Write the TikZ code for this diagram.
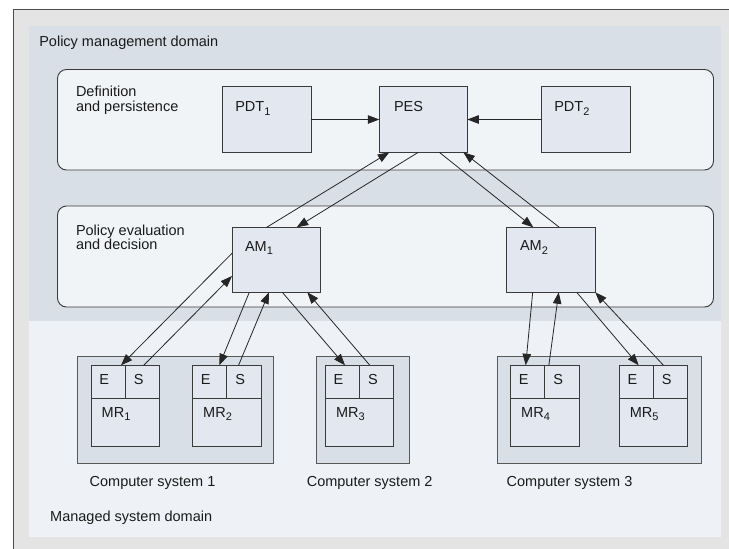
\documentclass[tikz,border=0pt]{standalone}
\usepackage{fontspec}
\setmainfont{Liberation Sans}
\usetikzlibrary{arrows.meta,calc}
\definecolor{outergray}{HTML}{E4E4E4}
\definecolor{band}{HTML}{D8DFE7}
\definecolor{paleregion}{HTML}{EEF2F6}
\definecolor{roundfill}{HTML}{F1F4F7}
\definecolor{boxfill}{HTML}{E3E7EF}
\definecolor{linecol}{HTML}{3A3A3A}
\definecolor{txtcol}{HTML}{1A1A1A}
\newcommand{\lowsub}[1]{\raisebox{-3.6pt}{\fontsize{11}{11}\selectfont #1}}
\begin{document}
\begin{tikzpicture}[x=1pt,y=-1pt,
  every node/.style={font=\fontsize{14.5}{14.3}\selectfont, text=txtcol},
  txt/.style={anchor=base west, inner sep=0pt, outer sep=0pt},
  region/.style={anchor=north west, inner sep=0pt, outer sep=0pt, fill=#1},
  container/.style={anchor=north west, inner sep=0pt, outer sep=0pt, draw=linecol, line width=0.9pt, fill=roundfill, rounded corners=9pt},
  system/.style={anchor=north west, inner sep=0pt, outer sep=0pt, draw=linecol!85, line width=0.9pt, fill=band},
  box/.style={anchor=north west, inner sep=0pt, outer sep=0pt, draw=linecol, line width=0.9pt, fill=boxfill},
  arr/.style={draw=black!85, line width=0.8pt, -{Triangle[length=11.5pt,width=8.5pt]}}
]
\clip (0,0) rectangle (729,549);
\useasboundingbox (0,0) rectangle (729,549);
\fill[white] (0,0) rectangle (729,549);
% outer frame
\node[region=outergray, draw=black!70, line width=0.9pt, minimum width=740pt, minimum height=560pt] (frame) at (13,9) {};
% domains
\node[region=band, minimum width=692pt, minimum height=295pt] (pmd) at (29,26) {};
\node[region=paleregion, minimum width=692pt, minimum height=216pt] (msd) at (29,321) {};
\node[txt] (pmdlabel) at (39.3,46.7) {Policy management domain};
\node[txt] (msdlabel) at (50.2,521.7) {Managed system domain};
% layer containers
\node[container, minimum width=656pt, minimum height=100.5pt] (defbox) at (57.5,69.5) {};
\node[container, minimum width=656pt, minimum height=101pt] (evalbox) at (57.5,206) {};
\node[txt] (deflabel) at (76,96.7) {\begin{tabular}[t]{@{}l@{}}Definition\\and persistence\end{tabular}};
\node[txt] (evallabel) at (76,235) {\begin{tabular}[t]{@{}l@{}}Policy evaluation\\and decision\end{tabular}};
% top boxes
\node[box, minimum width=88.6pt, minimum height=65.6pt] (PDT1) at (222.7,86.7) {};
\node[box, minimum width=88pt, minimum height=65.6pt] (PES) at (379.3,86.7) {};
\node[box, minimum width=89pt, minimum height=65.6pt] (PDT2) at (541.7,86.7) {};
\node[txt] (PDT1l) at ($(PDT1.north west)+(12.6,25)$) {PDT\lowsub{1}};
\node[txt] (PESl) at ($(PES.north west)+(14.7,25)$) {PES};
\node[txt] (PDT2l) at ($(PDT2.north west)+(12.6,25)$) {PDT\lowsub{2}};
% AM boxes
\node[box, minimum width=88.7pt, minimum height=65pt] (AM1) at (232,227.3) {};
\node[box, minimum width=88.6pt, minimum height=65pt] (AM2) at (506.7,227.3) {};
\node[txt] (AM1l) at ($(AM1.north west)+(13,23.7)$) {AM\lowsub{1}};
\node[txt] (AM2l) at ($(AM2.north west)+(13.3,23.4)$) {AM\lowsub{2}};
% computer systems
\node[system, minimum width=195.6pt, minimum height=106.8pt] (CS1) at (77.7,356.5) {};
\node[system, minimum width=93pt, minimum height=106.8pt] (CS2) at (316,356.5) {};
\node[system, minimum width=204pt, minimum height=106.8pt] (CS3) at (497.4,356.5) {};
\node[txt] (CS1l) at (89.7,486.7) {Computer system 1};
\node[txt] (CS2l) at (306.8,486.7) {Computer system 2};
\node[txt] (CS3l) at (506.7,486.7) {Computer system 3};
% managed resources
\foreach \i/\xl in {1/91,2/192.5,3/325.4,4/510.5,5/619.2}{
  \node[box, minimum width=34.25pt, minimum height=32.7pt] (E\i) at (\xl,365.3) {};
  \node[box, minimum width=34.25pt, minimum height=32.7pt] (S\i) at (E\i.north east) {};
  \node[box, minimum width=68.5pt, minimum height=48.5pt] (M\i) at (E\i.south west) {};
  \node[txt] (E\i l) at ($(E\i.north west)+(8.3,19)$) {E};
  \node[txt] (S\i l) at ($(S\i.north west)+(8.5,19)$) {S};
  \node[txt] (M\i l) at ($(M\i.north west)+(10.7,19.3)$) {MR\lowsub{\i}};
}
% connectors
\draw[arr] (PDT1.east) -- (PES.west);
\draw[arr] (PDT2.west) -- (PES.east);
\draw[arr] ($(AM1.north west)+(34.7,0)$) -- ($(PES.south west)+(10,0)$);
\draw[arr] ($(PES.south west)+(39,0)$) -- ($(AM1.north west)+(64.7,0)$);
\draw[arr] ($(PES.south west)+(60,0)$) -- ($(AM2.north west)+(26.6,0)$);
\draw[arr] ($(AM2.north west)+(52.6,0)$) -- ($(PES.south east)+(-4,0)$);
\draw[arr] ($(AM1.north west)+(0,26)$) -- ($(E1.north west)+(30,0)$);
\draw[arr] ($(S1.north west)+(18.5,0)$) -- ($(AM1.north west)+(0,48.7)$);
\draw[arr] ($(AM1.south west)+(17.3,0)$) -- ($(E2.north west)+(26.8,0)$);
\draw[arr] ($(S2.north west)+(11.8,0)$) -- ($(AM1.south west)+(37,0)$);
\draw[arr] ($(AM1.south west)+(50.3,0)$) -- ($(E3.north west)+(19.6,0)$);
\draw[arr] ($(S3.north west)+(10.2,0)$) -- ($(AM1.south west)+(75.3,0)$);
\draw[arr] ($(AM2.south west)+(26,0)$) -- ($(E4.north west)+(15.2,0)$);
\draw[arr] ($(S4.north west)+(4.1,0)$) -- ($(AM2.south west)+(52,0)$);
\draw[arr] ($(AM2.south west)+(70,0)$) -- ($(E5.north west)+(19.5,0)$);
\draw[arr] ($(S5.north west)+(10,0)$) -- (AM2.south east);
\end{tikzpicture}
\end{document}
